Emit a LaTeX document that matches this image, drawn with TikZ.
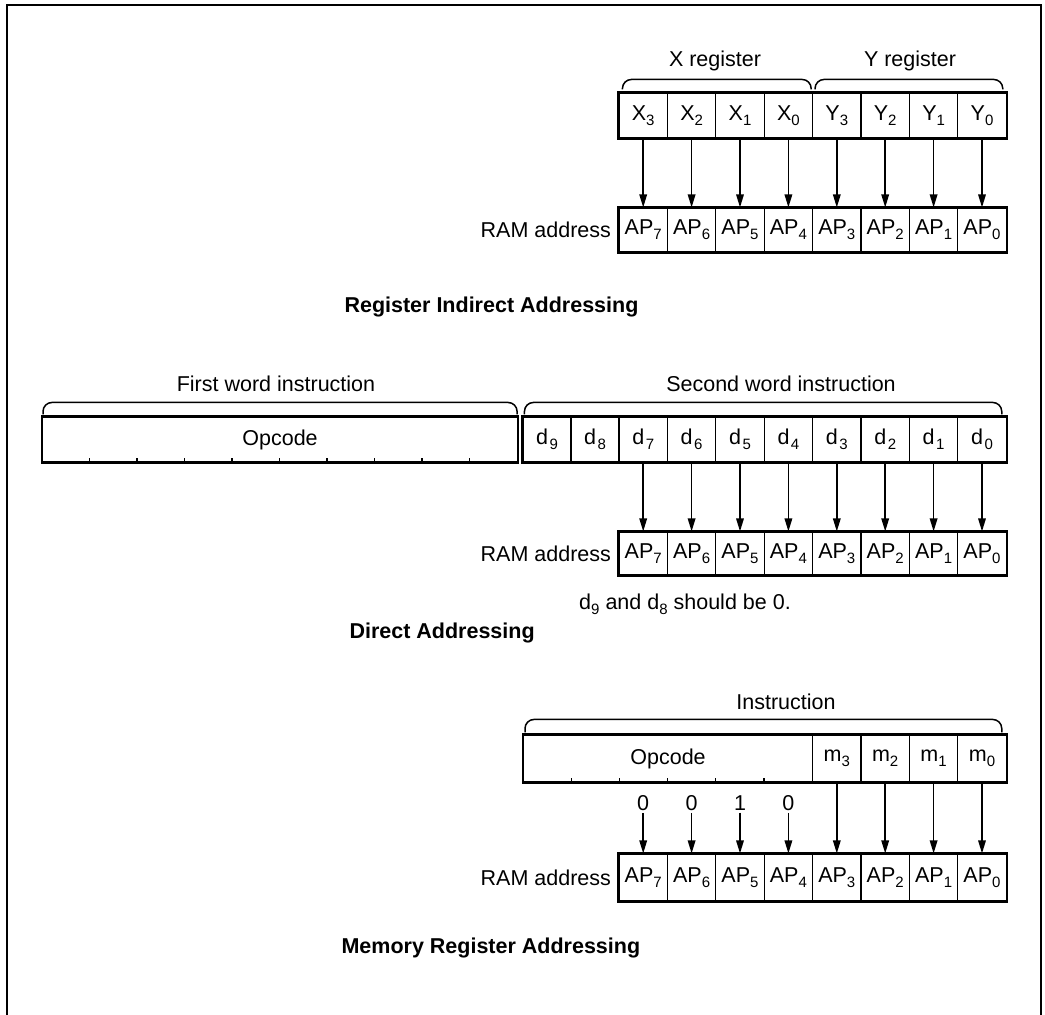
\documentclass[tikz,border=0pt]{standalone}
\usepackage{fontspec}
\setmainfont{Liberation Sans}
\usetikzlibrary{positioning, arrows.meta, calc}

\newcommand{\lowsub}[1]{\raisebox{-0.45ex}{\fontsize{15}{15}\selectfont #1}}

\begin{document}
\begin{tikzpicture}[x=1pt, y=-1pt, >={Triangle[width=7.5pt,length=13pt]},
  every node/.style={font=\fontsize{21.5}{25}\selectfont},
  cell/.style={draw, line width=1.1pt, minimum width=48.4pt, minimum height=45pt, inner sep=0pt},
  outline/.style={draw, line width=2pt},
  brace/.style={line width=1.5pt, rounded corners=9pt},
  link/.style={->, line width=1.6pt},
  title/.style={font=\fontsize{21.5}{25}\selectfont\bfseries, anchor=west}
]
  \useasboundingbox (0,0) rectangle (1045,1015);
  \draw[line width=2.4pt] (7,1015) -- (7,5) -- (1041,5) -- (1041,1015);

  % Register indirect addressing
  \foreach \nm/\txt [count=\i from 0] in {x3/X\lowsub{3}, x2/X\lowsub{2}, x1/X\lowsub{1}, x0/X\lowsub{0},
      y3/Y\lowsub{3}, y2/Y\lowsub{2}, y1/Y\lowsub{1}, y0/Y\lowsub{0}}
    \node[cell] (\nm) at (643.2+48.4*\i, 115.5) {\txt};
  \foreach \k [count=\i from 0] in {7,6,...,0}
    \node[cell, minimum height=44pt] (ra\k) at (643.2+48.4*\i, 230) {AP\lowsub{\k}};
  \draw[outline] (x3.north west) rectangle (y0.south east);
  \draw[outline] (ra7.north west) rectangle (ra0.south east);

  \draw[brace] ([xshift=4pt,yshift=3pt]x3.north west) -- ([xshift=4pt,yshift=13pt]x3.north west)
    -- ([xshift=-2pt,yshift=13pt]x0.north east) -- ([xshift=-2pt,yshift=3pt]x0.north east);
  \draw[brace] ([xshift=3pt,yshift=3pt]y3.north west) -- ([xshift=3pt,yshift=13pt]y3.north west)
    -- ([xshift=-4pt,yshift=13pt]y0.north east) -- ([xshift=-4pt,yshift=3pt]y0.north east);
  \node (xreg) at (715,61) {X register};
  \node (yreg) at (910,61) {Y register};

  \foreach \a/\b in {x3/ra7, x2/ra6, x1/ra5, x0/ra4, y3/ra3, y2/ra2, y1/ra1, y0/ra0}
    \draw[link] (\a) -- (\b);
  \node[left=4pt of ra7] (rama) {RAM address};
  \node[title] (ttla) at (341,307) {Register Indirect Addressing};

  % Direct addressing
  \node[cell, minimum width=475pt, anchor=west] (opa) at (42,439.5) {Opcode};
  \foreach \t in {1,...,9}
    \draw[line width=1.1pt] ([xshift=47.5*\t]opa.south west) -- ++(0,-5);
  \node[cell, minimum width=48pt] (d9) at (547,439.5) {d\kern1.5pt\lowsub{9}};
  \node[cell, minimum width=48pt] (d8) at (595,439.5) {d\kern1.5pt\lowsub{8}};
  \foreach \k [count=\i from 0] in {7,6,...,0}
    \node[cell] (d\k) at (643.2+48.4*\i, 439.5) {d\kern1.5pt\lowsub{\k}};
  \foreach \k [count=\i from 0] in {7,6,...,0}
    \node[cell, minimum height=43pt] (rb\k) at (643.2+48.4*\i, 553.5) {AP\lowsub{\k}};
  \draw[outline] (opa.north west) rectangle (opa.south east);
  \draw[outline] (d9.north west) rectangle (d0.south east);
  \draw[outline] (rb7.north west) rectangle (rb0.south east);

  \draw[brace] ([xshift=1pt,yshift=2pt]opa.north west) -- ([xshift=1pt,yshift=14pt]opa.north west)
    -- ([xshift=-1pt,yshift=14pt]opa.north east) -- ([xshift=-1pt,yshift=2pt]opa.north east);
  \draw[brace] ([xshift=2pt,yshift=2pt]d9.north west) -- ([xshift=2pt,yshift=14pt]d9.north west)
    -- ([xshift=-5pt,yshift=14pt]d0.north east) -- ([xshift=-5pt,yshift=2pt]d0.north east);
  \node (first) at (276,384) {First word instruction};
  \node (second) at (781,384) {Second word instruction};

  \foreach \k in {7,6,...,0}
    \draw[link] (d\k) -- (rb\k);
  \node[left=4pt of rb7] (ramb) {RAM address};
  \node (note) at (685,604) {d\lowsub{9} and d\lowsub{8} should be 0.};
  \node[title] (ttlb) at (346,633) {Direct Addressing};

  % Memory register addressing
  \node[cell, minimum width=289pt, minimum height=47pt, anchor=west] (opb) at (523,758.5) {Opcode};
  \foreach \t in {1,...,5}
    \draw[line width=1.1pt] ([xshift=48.2*\t]opb.south west) -- ++(0,-5);
  \foreach \k [count=\i from 4] in {3,2,1,0}
    \node[cell, minimum height=47pt] (m\k) at (643.2+48.4*\i, 758.5) {m\lowsub{\k}};
  \foreach \k [count=\i from 0] in {7,6,...,0}
    \node[cell, minimum height=47pt] (rc\k) at (643.2+48.4*\i, 877.5) {AP\lowsub{\k}};
  \draw[outline] (opb.north west) rectangle (m0.south east);
  \draw[outline] (rc7.north west) rectangle (rc0.south east);

  \draw[brace] ([xshift=2pt,yshift=2pt]opb.north west) -- ([xshift=2pt,yshift=15pt]opb.north west)
    -- ([xshift=-5pt,yshift=15pt]m0.north east) -- ([xshift=-5pt,yshift=2pt]m0.north east);
  \node (instr) at (786,702) {Instruction};

  \foreach \k/\v [count=\i from 0] in {7/0, 6/0, 5/1, 4/0}
    \node[inner sep=2pt] (b\k) at (643.2+48.4*\i, 803) {\v};
  \foreach \k in {7,6,5,4}
    \draw[link] (b\k) -- (rc\k);
  \foreach \k in {3,2,1,0}
    \draw[link] (m\k) -- (rc\k);
  \node[left=4pt of rc7] (ramc) {RAM address};
  \node[title] (ttlc) at (338,948) {Memory Register Addressing};
\end{tikzpicture}
\end{document}
